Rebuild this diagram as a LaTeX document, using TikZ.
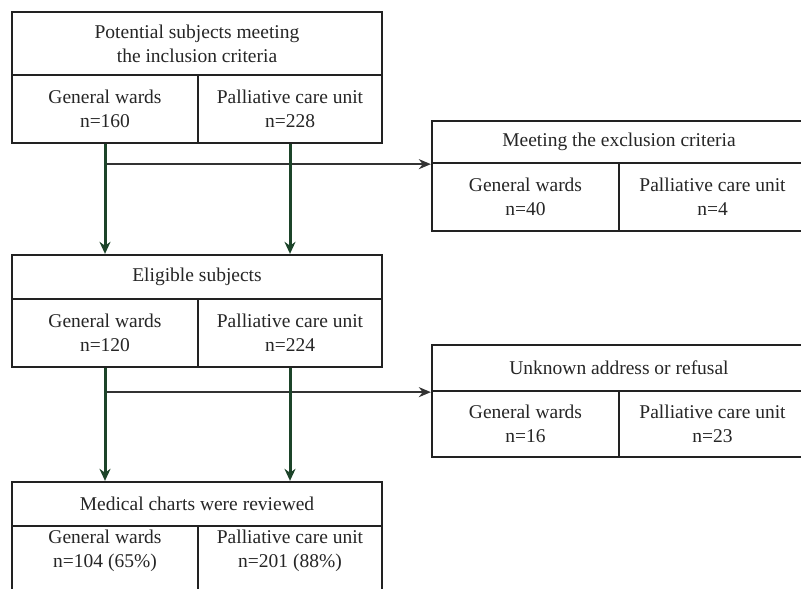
\documentclass[tikz,border=0pt]{standalone}
\usepackage{fontspec}
\setmainfont{Liberation Serif}
\usetikzlibrary{arrows.meta}
\definecolor{boxc}{HTML}{222222}
\definecolor{txtc}{HTML}{262626}
\definecolor{grn}{HTML}{1C4429}
\definecolor{hln}{HTML}{333333}
\begin{document}
\begin{tikzpicture}[x=1pt,y=-1pt,
  cell/.style={draw=boxc, line width=2.3pt, rectangle, inner sep=0pt, align=center,
    font=\fontsize{19.5}{24}\selectfont, text=txtc},
  lbl/.style={inner sep=0pt, align=center, font=\fontsize{19.5}{24}\selectfont, text=txtc},
  varr/.style={draw=grn, line width=3pt, -{Stealth[length=12pt,width=11pt]}},
  harr/.style={draw=hln, line width=1.8pt, -{Stealth[length=12pt,width=10pt]}}]
\useasboundingbox (0,0) rectangle (801,589);
\clip (0,0) rectangle (801,589);
\fill[white] (0,0) rectangle (801,589);
% box 1
\node[cell, minimum width=370pt, minimum height=63pt] (b1t) at (197,43.5) {Potential subjects meeting\\the inclusion criteria};
\node[cell, minimum width=186pt, minimum height=68pt] (b1gw) at (105,109) {General wards\\n=160};
\node[cell, minimum width=184pt, minimum height=68pt] (b1pc) at (290,109) {Palliative care unit\\n=228};
% box 2
\node[cell, minimum width=374pt, minimum height=42pt] (b2t) at (619,142) {Meeting the exclusion criteria};
\node[cell, minimum width=187pt, minimum height=68pt] (b2gw) at (525.5,197) {General wards\\n=40};
\node[cell, minimum width=187pt, minimum height=68pt] (b2pc) at (712.5,197) {Palliative care unit\\n=4};
% box 3
\node[cell, minimum width=370pt, minimum height=44pt] (b3t) at (197,277) {Eligible subjects};
\node[cell, minimum width=186pt, minimum height=68pt] (b3gw) at (105,333) {General wards\\n=120};
\node[cell, minimum width=184pt, minimum height=68pt] (b3pc) at (290,333) {Palliative care unit\\n=224};
% box 4
\node[cell, minimum width=374pt, minimum height=46pt] (b4t) at (619,368) {Unknown address or refusal};
\node[cell, minimum width=187pt, minimum height=66pt] (b4gw) at (525.5,424) {General wards\\n=16};
\node[cell, minimum width=187pt, minimum height=66pt] (b4pc) at (712.5,424) {Palliative care unit\\n=23};
% box 5
\node[cell, minimum width=370pt, minimum height=44pt] (b5t) at (197,504) {Medical charts were reviewed};
\node[cell, minimum width=186pt, minimum height=84pt] (b5gw) at (105,568) {};
\node[cell, minimum width=184pt, minimum height=84pt] (b5pc) at (290,568) {};
\node[lbl] (t5gw) at (105,551) {General wards\\n=104 (65\%)};
\node[lbl] (t5pc) at (290,551) {Palliative care unit\\n=201 (88\%)};
% connectors
\draw[harr] (b1gw.south |- b2t.south west) -- (b2t.south west);
\draw[harr] (b3gw.south |- b4t.south west) -- (b4t.south west);
\draw[varr] (b1gw.south) -- (b3t.north -| b1gw.south);
\draw[varr] (b1pc.south) -- (b3t.north -| b1pc.south);
\draw[varr] (b3gw.south) -- (b5t.north -| b3gw.south);
\draw[varr] (b3pc.south) -- (b5t.north -| b3pc.south);
\end{tikzpicture}
\end{document}
